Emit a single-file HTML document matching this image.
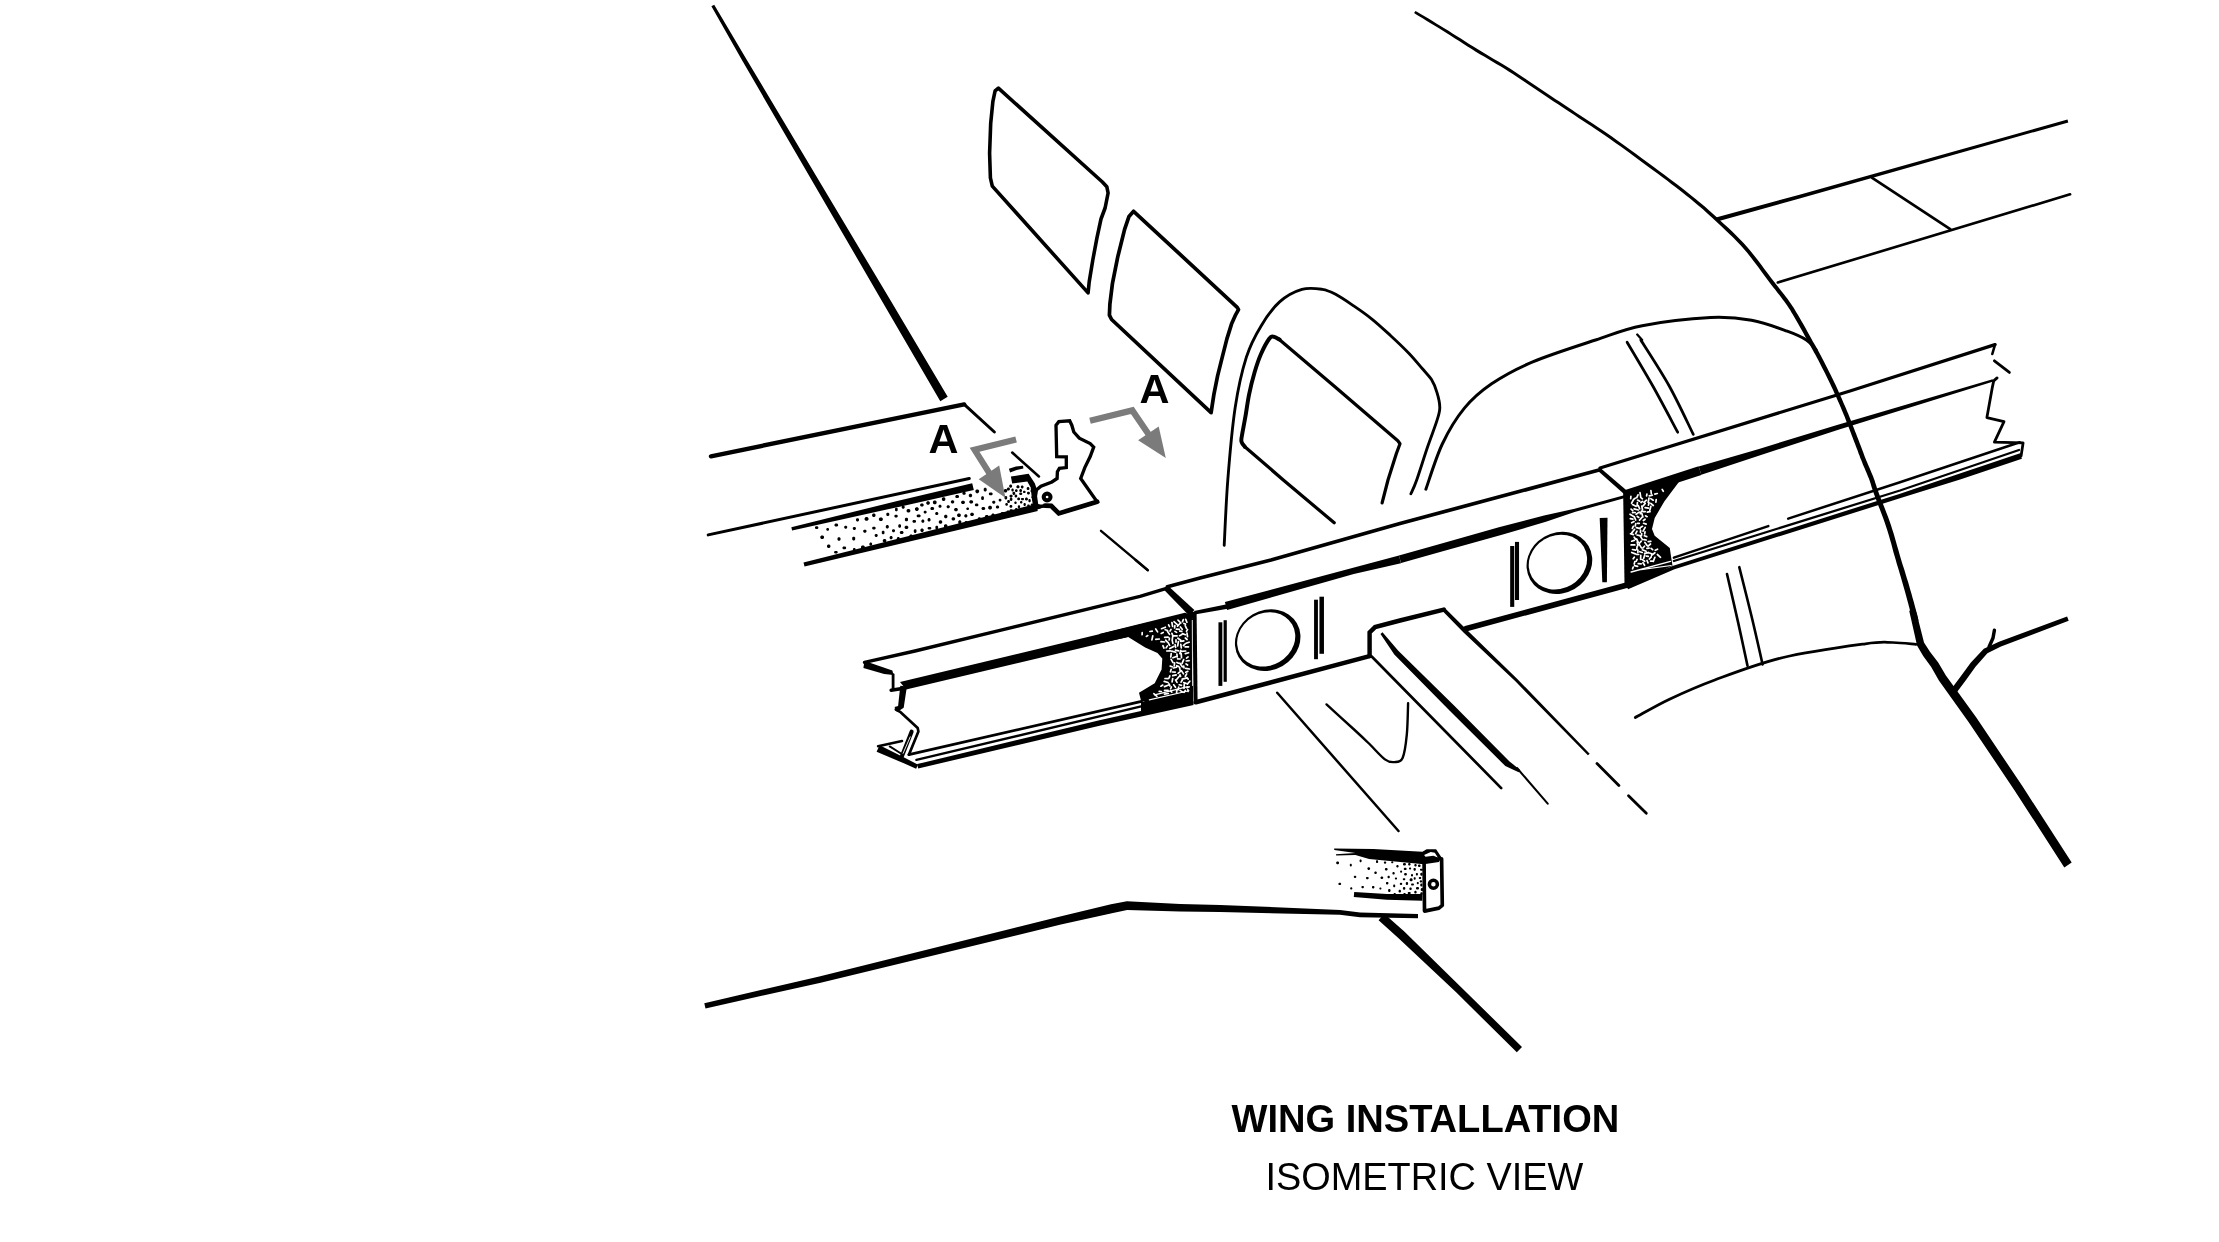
<!DOCTYPE html>
<html><head><meta charset="utf-8"><title>Wing Installation</title>
<style>
html,body{margin:0;padding:0;background:#fff;}
body{width:2219px;height:1242px;overflow:hidden;}
svg{display:block;font-family:"Liberation Sans",Arial,Helvetica,sans-serif;will-change:transform;}
text{fill:#000;}
</style></head><body>
<svg xmlns="http://www.w3.org/2000/svg" width="2219" height="1242" viewBox="0 0 2219 1242">
<rect width="2219" height="1242" fill="#fff"/>
<polygon points="711.4,6.3 742.5,61.1 882.5,301.9 940.3,401.2 947.7,396.8 889.1,298.1 746.3,58.9 714.2,4.7" fill="#000"/>
<polygon points="998.4,88.1 1102.4,182 1106.8,186.7 1108.1,193 1105.1,208 1101,219 1096.9,238.1 1092.8,260 1089.2,281.9 1088.1,292.9 992.3,186.1 990.4,177.9 989.6,153.3 990.7,123.2 992.9,101.3 995.1,90.9" fill="none" stroke="#000" stroke-width="3.59" stroke-linejoin="round" stroke-linecap="round"/>
<polygon points="1133.6,211.3 1237.2,307.3 1238.5,309.6 1235.6,314.8 1231.5,324.1 1226.9,338.9 1222.2,357.4 1217.6,375.9 1213.9,394.4 1211.1,412.6 1111.6,319.5 1109.4,315.1 1109.9,303.9 1112.5,283.1 1117.7,257.1 1124.6,229.4 1129,216.4" fill="none" stroke="#000" stroke-width="3.71" stroke-linejoin="round" stroke-linecap="round"/>
<path d="M1279.6,339.6C1278.6,339.1 1275.4,336.9 1273.7,336.7C1272.0,336.5 1271.5,335.7 1269.4,338.5C1267.3,341.3 1263.6,348.1 1261.1,353.7C1258.6,359.3 1256.6,365.4 1254.6,372.2C1252.6,379.0 1250.6,387.0 1249.1,394.4C1247.6,401.8 1246.6,409.9 1245.4,416.7C1244.2,423.5 1242.7,431.0 1242,435.2C1241.3,439.4 1241.0,439.8 1241.5,441.7C1242.0,443.6 1244.2,445.9 1244.8,446.7" fill="none" stroke="#000" stroke-width="3.95" stroke-linejoin="round" stroke-linecap="round"/>
<polyline points="1244.8,446.7 1283.3,480 1334.2,522.8" fill="none" stroke="#000" stroke-width="3.23" stroke-linejoin="round" stroke-linecap="round"/>
<polyline points="1278.7,338.9 1335.2,387 1397.8,440.7 1400,443.7 1396.3,453.7 1388,480 1382.1,502.9" fill="none" stroke="#000" stroke-width="3.23" stroke-linejoin="round" stroke-linecap="round"/>
<path d="M1224.2,545.3C1224.8,534.4 1226.0,503.0 1227.8,480C1229.6,457.0 1232.1,427.8 1235.2,407.4C1238.3,387.0 1242.0,371.0 1246.3,357.4C1250.6,343.8 1255.5,335.1 1261.1,325.9C1266.6,316.6 1272.8,308.0 1279.6,301.9C1286.4,295.8 1294.8,291.5 1301.9,289.4C1309.0,287.3 1316.7,288.5 1322.2,289.3C1327.8,290.1 1330.0,291.3 1335.2,294.1C1340.5,296.9 1347.5,301.7 1353.7,305.9C1359.9,310.1 1366.0,314.3 1372.2,319.3C1378.4,324.3 1384.5,330.0 1390.7,335.7C1396.9,341.4 1404.0,348.2 1409.3,353.7C1414.5,359.2 1418.5,364.2 1422.2,368.5C1425.9,372.8 1429.0,375.6 1431.5,379.6C1434.0,383.6 1435.6,388.0 1437,392.6C1438.4,397.2 1439.8,402.8 1439.8,407.4C1439.8,412.0 1439.0,413.9 1437,420.4C1435.0,426.9 1431.2,436.4 1427.8,446.3C1424.4,456.2 1419.5,472.1 1416.7,480C1413.9,487.9 1411.9,491.5 1410.9,493.8" fill="none" stroke="#000" stroke-width="2.87" stroke-linejoin="round" stroke-linecap="round"/>
<path d="M1425.9,489.2C1428.6,481.7 1435.9,457.5 1442.3,444C1448.7,430.5 1456.0,418.4 1464.2,408.4C1472.4,398.4 1480.2,391.6 1491.6,383.8C1503.0,376.1 1515.4,369.2 1532.7,361.9C1550.0,354.6 1577.3,346.0 1595.6,340C1613.8,334.0 1623.0,329.4 1642.2,325.7C1661.4,321.9 1692.4,318.4 1710.6,317.5C1728.8,316.6 1738.8,318.0 1751.6,320.3C1764.4,322.6 1778.1,327.9 1787.2,331.2C1796.3,334.5 1801.6,336.9 1806.4,340C1811.2,343.1 1814.4,348.0 1816,349.6" fill="none" stroke="#000" stroke-width="2.99" stroke-linejoin="round" stroke-linecap="round"/>
<polygon points="1414.1,13.1 1416.3,14.5 1419.2,16.2 1422.7,18.3 1426.5,20.7 1430.6,23.2 1434.9,25.8 1439,28.3 1443,30.8 1446.9,33.3 1450.9,35.8 1455,38.5 1459.2,41.1 1463.3,43.8 1467.5,46.5 1471.7,49.1 1475.8,51.7 1479.9,54.2 1484.1,56.6 1488.2,59.1 1492.3,61.5 1496.4,63.9 1500.5,66.3 1504.6,68.8 1508.7,71.4 1512.8,74 1516.9,76.7 1521,79.4 1525.1,82.2 1529.2,84.9 1533.3,87.7 1537.4,90.5 1541.5,93.2 1545.6,96 1549.6,98.7 1553.7,101.4 1557.7,104.1 1561.8,106.8 1565.9,109.5 1570.1,112.3 1574.4,115.1 1578.6,118 1582.9,120.7 1587.1,123.5 1591.4,126.3 1595.8,129.2 1600.3,132.3 1605.1,135.5 1610.1,139 1615.6,142.9 1621.5,147.1 1627.7,151.6 1634,156.2 1640.4,160.9 1646.5,165.4 1652.3,169.7 1657.6,173.6 1662.5,177.2 1667,180.6 1671.3,183.9 1675.4,187 1679.3,190 1683.1,193 1686.8,195.9 1690.4,198.8 1693.9,201.7 1697.1,204.4 1700.2,207 1703.2,209.6 1706.1,212.2 1709.1,214.9 1712.2,217.7 1715.4,220.8 1718.9,224 1722.4,227.3 1726,230.7 1729.7,234.2 1733.4,237.8 1737,241.5 1740.6,245.3 1744.1,249.2 1747.6,253.3 1751.1,257.8 1754.7,262.4 1758.2,267.1 1761.6,271.7 1764.9,276.2 1767.9,280.3 1770.7,284 1773.2,287.2 1775.5,290.1 1777.5,292.7 1779.4,295 1781.1,297.3 1782.7,299.4 1784.3,301.5 1785.9,303.8 1787.5,306 1788.9,308.2 1790.3,310.3 1791.5,312.4 1792.8,314.5 1794.1,316.7 1795.4,318.9 1796.7,321.2 1798,323.5 1799.4,325.9 1800.8,328.4 1802.1,330.8 1803.5,333.3 1804.9,335.9 1806.3,338.4 1807.6,340.8 1809,343.3 1810.3,345.6 1811.6,348 1812.9,350.3 1814.2,352.7 1815.6,355.1 1817,357.7 1818.5,360.5 1820,363.5 1821.6,366.7 1823.3,369.9 1825,373.3 1826.7,376.8 1828.4,380.2 1830,383.6 1831.6,386.9 1833.2,390.3 1834.7,393.7 1836.3,397.3 1837.8,400.7 1839.3,404.1 1840.7,407.3 1841.9,410.3 1843.1,413 1844,415.2 1844.8,417.1 1845.4,418.8 1846,420.3 1846.5,421.7 1847.1,423.2 1847.7,424.8 1848.4,426.6 1849.2,428.6 1850,430.8 1850.9,433 1851.7,435.3 1852.6,437.6 1853.5,439.9 1854.4,442.2 1855.3,444.4 1856.1,446.7 1857,448.9 1857.8,451.1 1858.6,453.4 1859.5,455.6 1860.3,457.9 1861.2,460.1 1862.1,462.3 1862.9,464.4 1863.8,466.5 1864.7,468.6 1865.6,470.7 1866.5,472.7 1867.3,474.7 1868.1,476.7 1868.9,478.6 1869.6,480.5 1870.1,482.1 1870.6,483.6 1871.1,485.2 1871.6,487 1872.3,489 1873.1,491.3 1874,494.1 1875.3,497.4 1876.7,501.2 1878.2,505.2 1879.9,509.5 1881.6,513.9 1883.2,518.3 1884.8,522.7 1886.2,526.9 1887.5,531 1888.8,535.2 1890,539.4 1891.2,543.6 1892.3,547.8 1893.4,551.9 1894.6,555.9 1895.7,559.7 1896.7,563.4 1897.8,567 1898.8,570.3 1899.8,573.7 1900.8,577 1901.7,580.3 1902.7,583.7 1903.7,587.2 1904.8,591 1905.9,595.1 1907.1,599.4 1908.2,603.6 1909.3,607.7 1910.3,611.5 1911.1,614.7 1911.7,617.2 1912.1,618.9 1912.3,620 1912.3,620.4 1912.4,619.9 1913.6,618.1 1914.6,617.7 1912.3,619.1 1911.9,620.5 1918.1,621.3 1917.7,622.3 1915.6,623.8 1916.9,623.3 1918.3,621.3 1918.4,620.1 1918.2,619 1917.9,617.7 1917.5,615.8 1916.8,613.2 1915.9,610 1914.9,606.2 1913.8,602.1 1912.6,597.9 1911.4,593.6 1910.2,589.4 1909.1,585.6 1908.1,582.1 1907,578.7 1906,575.4 1905,572.1 1904,568.8 1902.9,565.4 1901.8,561.9 1900.7,558.3 1899.6,554.4 1898.5,550.5 1897.3,546.4 1896.1,542.2 1894.9,538 1893.7,533.7 1892.3,529.5 1891,525.3 1889.5,521 1887.9,516.6 1886.2,512.2 1884.5,507.7 1882.8,503.4 1881.2,499.4 1879.8,495.7 1878.6,492.5 1877.6,489.8 1876.8,487.5 1876.2,485.5 1875.6,483.8 1875.1,482.2 1874.6,480.6 1874,478.9 1873.3,477 1872.5,474.9 1871.6,472.9 1870.8,470.9 1869.9,468.8 1869,466.8 1868.1,464.7 1867.2,462.6 1866.3,460.5 1865.5,458.4 1864.6,456.2 1863.8,454 1863,451.8 1862.1,449.5 1861.3,447.3 1860.4,445 1859.5,442.8 1858.7,440.5 1857.8,438.2 1856.9,435.9 1856,433.6 1855.1,431.4 1854.2,429.1 1853.4,427 1852.6,425 1851.9,423.2 1851.3,421.6 1850.7,420.1 1850.2,418.7 1849.6,417.2 1848.9,415.5 1848.1,413.5 1847.1,411.2 1846,408.6 1844.7,405.6 1843.3,402.4 1841.9,399 1840.3,395.5 1838.7,391.9 1837.2,388.4 1835.6,385.1 1834,381.7 1832.3,378.3 1830.6,374.8 1828.9,371.4 1827.2,368 1825.5,364.7 1823.9,361.5 1822.3,358.5 1820.9,355.7 1819.4,353 1818.1,350.6 1816.7,348.2 1815.4,345.8 1814.1,343.5 1812.7,341.2 1811.4,338.8 1810,336.3 1808.6,333.8 1807.2,331.3 1805.9,328.8 1804.5,326.3 1803.1,323.8 1801.7,321.4 1800.3,319 1799,316.8 1797.7,314.6 1796.4,312.4 1795.1,310.3 1793.8,308.1 1792.4,306 1790.9,303.7 1789.3,301.4 1787.6,299.1 1786,296.9 1784.3,294.8 1782.5,292.5 1780.7,290.2 1778.6,287.6 1776.4,284.8 1773.9,281.6 1771.1,277.9 1768,273.8 1764.7,269.4 1761.3,264.8 1757.7,260.1 1754.1,255.4 1750.5,251 1746.9,246.8 1743.3,242.8 1739.6,239 1735.9,235.3 1732.2,231.6 1728.5,228.1 1724.8,224.7 1721.2,221.4 1717.8,218.2 1714.5,215.2 1711.4,212.4 1708.3,209.7 1705.3,207.1 1702.3,204.5 1699.2,201.9 1695.9,199.2 1692.4,196.4 1688.7,193.5 1685,190.5 1681.2,187.6 1677.3,184.6 1673.2,181.5 1668.8,178.2 1664.3,174.8 1659.4,171.2 1654.1,167.2 1648.3,163 1642.1,158.4 1635.8,153.8 1629.5,149.2 1623.3,144.7 1617.3,140.5 1611.9,136.6 1606.8,133.1 1602,129.8 1597.4,126.7 1593,123.8 1588.7,121 1584.5,118.2 1580.3,115.5 1576,112.7 1571.8,109.8 1567.6,107 1563.5,104.3 1559.4,101.6 1555.3,98.9 1551.3,96.2 1547.2,93.5 1543.1,90.8 1539,88 1534.9,85.2 1530.8,82.4 1526.7,79.7 1522.6,76.9 1518.5,74.2 1514.4,71.5 1510.3,68.8 1506.2,66.3 1502.1,63.8 1497.9,61.3 1493.8,58.9 1489.7,56.5 1485.6,54.1 1481.5,51.6 1477.4,49.1 1473.3,46.6 1469.1,43.9 1464.9,41.3 1460.8,38.6 1456.6,36 1452.5,33.4 1448.5,30.8 1444.6,28.4 1440.5,25.9 1436.3,23.4 1432.1,20.8 1428,18.3 1424.1,16 1420.6,13.9 1417.7,12.2 1415.5,10.9" fill="#000"/>
<polygon points="1909.2,610.8 1911.7,621.7 1914.8,635.4 1917,645.4 1923.2,656.1 1931.2,667 1938.9,680.4 1968.9,722.5 2014.6,790.4 2064.3,867.4 2071.7,862.6 2022,785.6 1976.3,717.5 1945.9,675.6 1938.2,662.4 1929.8,651.5 1924,642.4 1921.8,633.8 1918.3,620.1 1915.4,609.2" fill="#000"/>
<polygon points="1955.5,693.9 1966,679.9 1975.5,666.7 1987.4,653.3 2001,646.6 2068.7,620.8 2067.1,616.4 1999,641.8 1983.8,648.7 1970.7,662.7 1961,676.1 1950.5,690.1" fill="#000"/>
<polyline points="1994.4,630.3 1993,638 1989,647" fill="none" stroke="#000" stroke-width="3.47" stroke-linejoin="round" stroke-linecap="round"/>
<path d="M1627.1,342.2C1631.4,349.6 1644.7,371.5 1653.1,386.5C1661.5,401.5 1673.6,424.6 1677.7,432.2" fill="none" stroke="#000" stroke-width="2.75" stroke-linejoin="round" stroke-linecap="round"/>
<path d="M1640.8,340C1645.6,347.8 1660.8,370.8 1669.5,386.5C1678.2,402.2 1689.3,426.4 1693.3,434.4" fill="none" stroke="#000" stroke-width="2.75" stroke-linejoin="round" stroke-linecap="round"/>
<polyline points="1637.2,334.5 1642.2,340" fill="none" stroke="#000" stroke-width="2.27" stroke-linejoin="round" stroke-linecap="round"/>
<path d="M1727,574C1728.8,582.0 1734.6,606.6 1738,621.9C1741.4,637.2 1745.9,658.4 1747.5,665.7" fill="none" stroke="#000" stroke-width="2.63" stroke-linejoin="round" stroke-linecap="round"/>
<path d="M1739.3,567.2C1741.3,575.4 1747.7,600.3 1751.6,616.5C1755.5,632.7 1760.8,656.4 1762.6,664.4" fill="none" stroke="#000" stroke-width="2.63" stroke-linejoin="round" stroke-linecap="round"/>
<path d="M1635.3,717.5C1641.0,714.5 1656.2,705.5 1669.5,699.2C1682.8,693.0 1695.8,687.0 1714.8,680C1733.8,673.0 1758.1,663.5 1783.2,657.5C1808.3,651.5 1847.2,646.3 1865.4,643.8C1883.7,641.3 1884.3,642.4 1892.7,642.5C1901.1,642.6 1912.1,644.1 1916,644.4" fill="none" stroke="#000" stroke-width="2.75" stroke-linejoin="round" stroke-linecap="round"/>
<polygon points="1717.2,221.5 1800.5,198.3 2068.3,122.4 2067.5,119.6 1799.5,194.7 1716,217.5" fill="#000"/>
<polyline points="1777.8,282.5 2070.1,194.3" fill="none" stroke="#000" stroke-width="2.63" stroke-linejoin="round" stroke-linecap="round"/>
<polyline points="1872.2,177.9 1950.2,229.1" fill="none" stroke="#000" stroke-width="2.75" stroke-linejoin="round" stroke-linecap="round"/>
<polyline points="711,456.3 964.2,404.4" fill="none" stroke="#000" stroke-width="4.43" stroke-linejoin="round" stroke-linecap="round"/>
<polyline points="964.2,404.4 994.4,432" fill="none" stroke="#000" stroke-width="2.99" stroke-linejoin="round" stroke-linecap="round"/>
<polyline points="708.2,534.9 969.3,478.5" fill="none" stroke="#000" stroke-width="2.99" stroke-linejoin="round" stroke-linecap="round"/>
<polygon points="792.1,530.5 900.7,506.4 973.8,489.9 972.2,483.3 899.3,500.4 791.3,527.3" fill="#000"/>
<polygon points="804.5,566.6 1037.8,511.1 1036,504.1 803.5,562.4" fill="#000"/>
<polyline points="1012.2,452.5 1038.9,476.5" fill="none" stroke="#000" stroke-width="2.58" stroke-linejoin="round" stroke-linecap="round"/>
<polygon points="1010.1,472.5 1016.7,470 1023.4,468.6 1023,465.8 1015.9,466.6 1008.9,468.7" fill="#000"/>
<polyline points="1101,530.8 1147.5,569.9" fill="none" stroke="#000" stroke-width="2.4" stroke-linejoin="round" stroke-linecap="round"/>
<polyline points="1135.6,560 1147.9,570.3" fill="none" stroke="#000" stroke-width="2.4" stroke-linejoin="round" stroke-linecap="round"/>
<polygon points="705.5,1008.4 820.7,982.7 1060.9,924.5 1113,912.9 1127.1,910 1179.9,911.6 1219.9,912 1339.9,914.7 1359.9,917.2 1418,918.3 1418,913.9 1360.1,912.4 1340.1,909.9 1220.1,905 1180.1,904 1126.9,901.2 1111,904.3 1059.1,916.7 819.3,976.5 704.3,1003.2" fill="#000"/>
<polygon points="1378.6,920.2 1398.3,937.9 1456.4,992.6 1516.8,1052.3 1522,1047.1 1461.4,987.4 1404.3,931.5 1384.2,913.8" fill="#000"/>
<polyline points="864.5,662.4 915,651 1001,630.1 1140,596.4 1167.4,588.1" fill="none" stroke="#000" stroke-width="3.35" stroke-linejoin="round" stroke-linecap="round"/>
<polyline points="1167.4,586.8 1200,578 1271,560 1400,523.5 1600,469.8" fill="none" stroke="#000" stroke-width="3.71" stroke-linejoin="round" stroke-linecap="round"/>
<polyline points="1600,468 1850,391 1995,344.6" fill="none" stroke="#000" stroke-width="3.23" stroke-linejoin="round" stroke-linecap="round"/>
<polygon points="1163.7,589.4 1189,615.5 1194.4,609.9 1167.7,585.4" fill="#000"/>
<polygon points="1598.6,471.4 1624.3,494.3 1627.3,490.9 1601,468.6" fill="#000"/>
<polygon points="864.4,661.6 870.5,663 892.4,670.5 893.5,675 884.2,673.9 863.4,668" fill="#000"/>
<polyline points="893.1,674.6 893.1,689.6" fill="none" stroke="#000" stroke-width="2.79" stroke-linejoin="round" stroke-linecap="round"/>
<polyline points="891.1,690.3 900.6,688.7" fill="none" stroke="#000" stroke-width="3.44" stroke-linejoin="round" stroke-linecap="round"/>
<polygon points="900.3,685.8 898.1,705.9 894.5,707 897.1,712 903.7,707.7 906.9,686.6" fill="#000"/>
<polyline points="895.8,709.5 900.6,712.2 917.7,728 918.4,731.4 908.9,754.7" fill="none" stroke="#000" stroke-width="2.68" stroke-linejoin="round" stroke-linecap="round"/>
<polyline points="911.6,731.7 902,756" fill="none" stroke="#000" stroke-width="4.09" stroke-linejoin="round" stroke-linecap="round"/>
<polyline points="910.2,736.9 903.1,753.3" fill="none" stroke="#fff" stroke-width="0.9" stroke-linejoin="round" stroke-linecap="round"/>
<polyline points="878.1,746.2 902,741" fill="none" stroke="#000" stroke-width="2.58" stroke-linejoin="round" stroke-linecap="round"/>
<polygon points="876.6,751.8 900.8,761.9 916.1,768.7 918.1,764.7 903.2,756.9 879.6,745.2" fill="#000"/>
<polyline points="889.7,746.4 900.6,753.3" fill="none" stroke="#000" stroke-width="1.93" stroke-linejoin="round" stroke-linecap="round"/>
<polyline points="908.9,754.7 1141.5,701.3" fill="none" stroke="#000" stroke-width="2.75" stroke-linejoin="round" stroke-linecap="round"/>
<polyline points="916.4,759.9 1144.3,705.7" fill="none" stroke="#000" stroke-width="2.27" stroke-linejoin="round" stroke-linecap="round"/>
<polygon points="918.2,768.5 1100.6,725.5 1193.6,705 1192.4,699.6 1099.4,720.3 917.2,764.1" fill="#000"/>
<polygon points="900,682.1 1150,621.9 1150,628.1 1126.5,637.2 906.1,689.6" fill="#000"/>
<polygon points="1099.3,633.9 1184.9,612.7 1191.7,614.7 1127.4,637.3 1099.3,643.2" fill="#000"/>
<polygon points="1127.4,636.6 1189,613.4 1193.1,618.9 1193.1,702.3 1141.1,701 1139,692.8 1154.7,683.2 1161.6,669.5 1162.3,658.5 1157.5,653.1 1145.2,647.6" fill="#000"/>
<polygon points="1194.7,614.4 1227.7,608.7 1226.9,604.3 1194.1,611" fill="#000"/>
<polygon points="1227.1,610.1 1353.8,573.9 1401,563.2 1399,555.4 1352.2,568.1 1224.9,601.9" fill="#000"/>
<polygon points="1401.1,563.1 1441,551.7 1501.1,535.1 1545.9,521.7 1575.4,511.8 1624.9,498.1 1624.1,495.3 1574.6,508.8 1544.1,515.5 1498.9,527.3 1439,544.3 1398.9,555.5" fill="#000"/>
<polygon points="1192.6,612 1193.6,703.5 1197.6,703.5 1196.6,612" fill="#000"/>
<polyline points="1192.3,620 1192.6,686" fill="none" stroke="#fff" stroke-width="0.9" stroke-linejoin="round" stroke-linecap="butt"/>
<polygon points="1187.6,609.3 1195.8,612.7 1194.4,618.9 1187.6,617.5" fill="#000"/>
<polyline points="1195.8,702.3 1369.6,656.1" fill="none" stroke="#000" stroke-width="4.52" stroke-linejoin="round" stroke-linecap="round"/>
<polyline points="1465.7,628.8 1627.2,585" fill="none" stroke="#000" stroke-width="5.6" stroke-linejoin="round" stroke-linecap="round"/>
<polyline points="1626.5,492.6 1627.9,587.7" fill="none" stroke="#000" stroke-width="6.68" stroke-linejoin="round" stroke-linecap="butt"/>
<ellipse cx="1267.7" cy="640.1" rx="33.7" ry="29.8" transform="rotate(-30 1267.7 640.1)" fill="#000"/>
<ellipse cx="1266.2" cy="639.4" rx="30.0" ry="26.1" transform="rotate(-30 1266.2 639.4)" fill="#fff"/>
<ellipse cx="1559.4" cy="562.8" rx="33.7" ry="30.2" transform="rotate(-30 1559.4 562.8)" fill="#000"/>
<ellipse cx="1557.9" cy="562.1" rx="30.0" ry="26.5" transform="rotate(-30 1557.9 562.1)" fill="#fff"/>
<polyline points="1220.4,622.3 1220.4,685.9" fill="none" stroke="#000" stroke-width="3.87" stroke-linejoin="round" stroke-linecap="butt"/>
<polyline points="1225.2,620.2 1225.2,681.8" fill="none" stroke="#000" stroke-width="3.22" stroke-linejoin="round" stroke-linecap="butt"/>
<polyline points="1316,599.7 1316,659.2" fill="none" stroke="#000" stroke-width="3.87" stroke-linejoin="round" stroke-linecap="butt"/>
<polyline points="1321.7,596.7 1321.7,653.8" fill="none" stroke="#000" stroke-width="4.52" stroke-linejoin="round" stroke-linecap="butt"/>
<polyline points="1512.2,546 1512.2,606.9" fill="none" stroke="#000" stroke-width="4.09" stroke-linejoin="round" stroke-linecap="butt"/>
<polyline points="1517,541.9 1517,600" fill="none" stroke="#000" stroke-width="4.09" stroke-linejoin="round" stroke-linecap="butt"/>
<polygon points="1599.7,518 1602.3,582.2 1606.9,582.2 1607.5,517.8" fill="#000"/>
<polyline points="1369.6,656.1 1369.6,632.5 1375.1,627.1 1400,620.5 1443.8,609.6" fill="none" stroke="#000" stroke-width="4.43" stroke-linejoin="miter" stroke-linecap="round"/>
<polygon points="1442.5,610.9 1463.5,632.6 1515.1,681.1 1587.9,755.3 1589.7,753.7 1517.3,678.9 1466.5,629.4 1445.1,608.3" fill="#000"/>
<polyline points="1597,763.5 1618.9,785.4" fill="none" stroke="#000" stroke-width="2.8" stroke-linejoin="round" stroke-linecap="round"/>
<polyline points="1628.5,795.8 1646.3,813.3" fill="none" stroke="#000" stroke-width="2.8" stroke-linejoin="round" stroke-linecap="round"/>
<polyline points="1371.7,656.5 1501.2,788.1" fill="none" stroke="#000" stroke-width="2.7" stroke-linejoin="round" stroke-linecap="round"/>
<polygon points="1380.5,633.9 1394.3,654.4 1449.5,710.5 1505.3,766 1518.7,772.3 1520.1,769.9 1509.5,761.4 1454.3,705.7 1398.3,650.8 1382.5,632.3" fill="#000"/>
<polyline points="1517,768 1547.7,803.7" fill="none" stroke="#000" stroke-width="2" stroke-linejoin="round" stroke-linecap="round"/>
<polyline points="1277.2,692.8 1398.5,831" fill="none" stroke="#000" stroke-width="2.5" stroke-linejoin="round" stroke-linecap="round"/>
<path d="M1326.5,704.4C1331.2,708.7 1347.6,723.6 1354.6,730C1361.6,736.4 1363.4,738.1 1368.4,743C1373.5,747.9 1380.6,756.2 1384.9,759.4C1389.2,762.6 1391.5,762.3 1394.4,762.1C1397.4,761.9 1400.5,762.6 1402.6,758C1404.7,753.4 1405.9,743.8 1406.8,734.7C1407.7,725.6 1407.9,708.5 1408.1,703.3" fill="none" stroke="#000" stroke-width="2.4" stroke-linejoin="round" stroke-linecap="round"/>
<polygon points="1626,490.5 1676.6,476.8 1678.7,482.3 1664.3,501.5 1654.7,517.9 1652,528.9 1654.7,535.7 1669.8,548 1671.2,557.6 1672.5,565.8 1627.4,587.7 1625.3,538.4" fill="#000"/>
<polygon points="1627.2,499 1701.4,475 1698.6,466.2 1624.4,490.2" fill="#000"/>
<polygon points="1701.3,474.8 1761,455.1 1837.6,430 1993.4,381.6 1992.6,379.2 1836.2,425.2 1759,448.9 1698.7,466.4" fill="#000"/>
<polygon points="1628,589.3 1674.5,569.3 1900.7,498.1 1960.9,479.2 2021.9,458.7 2020.1,453.3 1959.1,473.8 1899.3,493.9 1673.3,565.7 1626,584.7" fill="#000"/>
<polyline points="1673.9,561 1900,490.5 2019,450" fill="none" stroke="#000" stroke-width="2.27" stroke-linejoin="round" stroke-linecap="round"/>
<polyline points="1673.9,557.6 1768.3,526.1" fill="none" stroke="#000" stroke-width="2.51" stroke-linejoin="round" stroke-linecap="round"/>
<polyline points="1788.2,518.6 1900,482.3 2019.7,442.2" fill="none" stroke="#000" stroke-width="2.51" stroke-linejoin="round" stroke-linecap="round"/>
<polyline points="1631.2,572 1670.5,561.4" fill="none" stroke="#fff" stroke-width="1.4" stroke-linejoin="round" stroke-linecap="round"/>
<polyline points="1641.1,569.6 1671.2,565.5" fill="none" stroke="#fff" stroke-width="1.1" stroke-linejoin="round" stroke-linecap="round"/>
<polygon points="1141,702 1190,690 1193.5,704 1141,714" fill="#000"/>
<polyline points="1154.7,694.8 1187.6,686.6" fill="none" stroke="#fff" stroke-width="1.3" stroke-linejoin="round" stroke-linecap="round"/>
<polyline points="1149.3,699.9 1189,690.7" fill="none" stroke="#fff" stroke-width="1.1" stroke-linejoin="round" stroke-linecap="round"/>
<polyline points="1995.1,344.4 1992.3,354" fill="none" stroke="#000" stroke-width="2.58" stroke-linejoin="round" stroke-linecap="round"/>
<polyline points="1994.4,360.8 2009.4,372.4" fill="none" stroke="#000" stroke-width="2.79" stroke-linejoin="round" stroke-linecap="round"/>
<polyline points="1997.1,377.9 1993.7,380.9 1992.3,387.5 1986.9,417.6 2004,421.7 1994.4,442.2 2023.1,442.9 2021.1,455.9" fill="none" stroke="#000" stroke-width="2.79" stroke-linejoin="round" stroke-linecap="round"/>
<path d="M1155.7,629.0L1157.6,631.9M1171.9,622.5L1172.6,626.4M1167.4,645.9L1166.1,647.9M1147.8,635.6L1146.3,636.4M1170.5,690.9L1171.8,692.1M1183.8,640.8L1180.7,641.3M1173.6,646.4L1169.8,648.5M1171.7,651.1L1175.7,652.2M1161.0,641.7L1164.6,642.0M1180.2,671.6L1178.1,673.3M1168.0,685.3L1164.5,686.6M1176.0,639.8L1176.0,642.1M1176.9,662.4L1178.5,663.2M1174.6,662.9L1174.2,666.0M1180.1,690.4L1182.6,692.1M1179.2,684.8L1181.5,685.4M1187.5,629.6L1186.5,631.3M1169.4,638.0L1169.2,640.0M1187.8,671.4L1185.7,672.2M1186.2,678.2L1182.2,679.1M1152.3,631.2L1149.9,631.5M1171.0,629.5L1170.0,631.0M1159.3,639.0L1155.7,639.3M1179.8,631.2L1181.8,631.4M1165.2,629.7L1167.6,630.5M1168.3,693.5L1164.5,694.2M1181.4,670.6L1183.5,673.9M1165.0,678.5L1168.2,678.6M1180.0,674.7L1180.6,676.4M1188.6,652.7L1185.3,653.6M1188.5,646.8L1185.1,646.9M1171.4,687.0L1170.6,688.8M1181.2,653.6L1181.5,657.7M1172.7,678.5L1172.1,681.8M1176.9,654.2L1177.2,656.8M1159.2,691.4L1161.4,691.5M1175.0,631.4L1176.6,632.4M1185.8,668.4L1189.4,669.0M1168.1,690.4L1164.5,690.4M1162.8,685.1L1160.9,686.2M1181.9,634.5L1179.5,635.7M1163.2,632.4L1161.2,633.4M1173.7,684.8L1175.5,687.3M1185.3,638.0L1187.1,639.5M1189.8,681.2L1187.3,684.1M1168.1,637.1L1164.6,637.3M1185.2,625.7L1186.5,628.3M1180.8,650.4L1179.9,653.6M1176.5,667.2L1173.4,668.0M1189.1,660.6L1186.2,661.0M1183.7,666.1L1184.0,667.8M1175.5,679.9L1177.0,682.4M1172.4,672.0L1175.2,672.1M1176.7,665.7L1178.9,666.6M1165.4,627.2L1161.5,628.7M1182.4,633.6L1185.4,634.7M1187.9,689.7L1188.0,691.5M1180.4,626.9L1182.2,629.3M1172.2,640.4L1172.9,643.5M1175.4,650.2L1178.6,650.9M1183.3,619.6L1182.5,621.6M1152.8,635.8L1151.9,639.9M1189.1,642.2L1186.0,643.3M1184.2,684.7L1184.0,688.4M1187.0,633.0L1187.5,636.6M1185.7,619.3L1186.9,622.2M1179.7,623.8L1177.5,626.2M1171.2,669.3L1170.4,671.8M1168.0,642.4L1169.6,645.4M1179.6,667.5L1180.1,670.3M1171.9,633.4L1172.8,635.6M1183.7,659.6L1182.1,663.3M1177.9,638.2L1180.7,640.2M1171.2,653.6L1170.8,657.0M1186.7,673.9L1185.3,676.3M1177.6,658.9L1180.2,659.0M1176.8,689.6L1176.6,692.9M1176.2,674.9L1172.8,675.7M1182.3,680.0L1181.1,682.2M1188.1,656.9L1186.5,658.1M1175.7,656.7L1172.9,657.8M1180.8,644.3L1181.3,647.8M1172.8,635.9L1172.2,640.2M1183.9,623.5L1185.5,624.1M1169.8,675.9L1169.1,678.0M1174.0,621.7L1177.3,624.6M1174.9,625.6L1174.6,628.0M1169.0,683.8L1169.9,685.9M1186.9,677.7L1188.2,679.1M1170.3,650.8L1166.7,651.0M1168.6,624.8L1169.4,626.5M1185.7,651.0L1181.6,651.3M1164.2,681.4L1168.1,682.5M1178.4,641.5L1177.7,645.8M1175.1,644.6L1175.6,647.4M1173.9,635.8L1177.1,635.9M1178.0,620.2L1180.9,623.0M1153.8,693.7L1156.9,696.4M1171.1,659.3L1173.0,662.6M1179.3,676.2L1176.6,679.5M1178.7,687.2L1178.1,689.7M1165.7,640.2L1167.2,641.8M1183.7,682.6L1186.0,683.4M1167.4,631.2L1169.5,634.4M1176.4,629.2L1179.4,629.3M1142.2,632.7L1142.1,634.7M1185.3,690.5L1184.1,692.3M1184.9,644.1L1183.4,645.6M1189.2,686.8L1186.9,687.7M1170.2,666.1L1172.2,666.7M1186.0,663.9L1187.6,665.0M1179.9,663.2L1182.3,666.8M1162.9,645.7L1164.0,648.1" stroke="#fff" stroke-width="1.7" fill="none" stroke-linecap="round"/>
<path d="M1657.3,493.5L1654.8,494.1M1634.3,557.2L1633.2,558.8M1642.5,501.3L1641.0,502.5M1637.1,546.3L1636.8,549.3M1639.2,512.1L1636.1,514.3M1641.8,506.0L1642.5,510.0M1644.5,546.2L1642.9,548.0M1637.4,502.5L1637.1,505.9M1652.3,495.1L1649.3,495.9M1657.4,554.5L1660.5,557.3M1649.1,548.2L1646.9,548.4M1634.2,516.6L1635.7,520.0M1650.1,511.7L1647.3,512.2M1643.6,523.3L1646.2,524.1M1636.4,527.7L1640.1,528.6M1640.7,497.3L1642.4,498.8M1651.2,556.9L1649.4,559.0M1637.1,559.4L1636.2,561.2M1638.2,563.7L1641.3,563.8M1634.0,521.6L1631.7,522.8M1634.2,540.4L1631.7,541.2M1637.2,542.0L1637.9,545.6M1650.8,503.3L1653.3,505.5M1634.8,544.9L1631.1,544.9M1645.2,527.4L1643.1,531.2M1646.4,500.2L1644.0,502.4M1645.1,507.6L1648.4,508.2M1633.6,499.5L1631.6,503.2M1648.0,552.5L1651.7,553.7M1632.5,504.6L1635.9,506.3M1657.5,549.2L1655.3,550.3M1637.6,523.3L1639.3,523.4M1641.7,533.6L1641.5,535.6M1649.0,498.0L1648.2,502.3M1642.3,517.0L1639.5,520.1M1645.1,519.2L1643.4,520.5M1634.1,508.9L1638.3,510.0M1650.8,541.4L1648.2,541.7M1650.9,506.3L1649.8,510.3M1634.2,537.2L1635.8,539.4M1640.8,555.3L1640.6,559.4M1632.5,549.5L1635.6,550.2M1656.2,499.5L1655.9,502.2M1650.8,498.6L1653.2,500.2M1633.2,567.0L1632.6,568.8M1641.3,541.1L1639.4,543.3M1647.0,560.5L1648.0,562.8M1633.3,526.4L1632.4,528.4M1641.5,511.1L1640.3,513.7M1644.0,539.6L1646.3,540.0M1646.4,556.1L1648.3,556.4M1651.1,548.3L1652.6,549.7M1634.8,561.7L1634.2,564.0M1636.6,538.9L1638.1,542.2M1642.9,511.6L1645.2,511.7M1637.6,500.1L1639.7,501.2M1639.8,551.7L1642.2,552.5M1635.3,498.1L1634.1,499.2M1630.5,533.7L1633.4,534.6M1642.3,559.6L1644.7,561.3M1637.9,550.1L1637.9,552.3M1638.3,505.6L1639.6,508.8M1636.5,554.4L1638.7,554.5M1646.9,494.1L1646.6,495.9M1640.0,492.7L1640.7,496.9M1644.4,535.8L1646.7,536.6M1635.8,523.6L1635.2,526.0M1640.6,530.4L1640.4,532.3M1637.0,531.2L1635.7,533.7M1648.6,552.6L1644.6,553.3M1645.5,515.8L1647.1,516.7M1631.7,552.5L1635.3,553.9M1662.2,489.4L1663.3,491.3M1630.3,518.6L1632.9,519.1M1654.9,557.3L1653.3,561.4M1644.9,542.4L1647.1,545.6M1635.2,512.5L1632.5,512.7M1637.3,516.5L1638.8,517.4M1631.1,509.2L1632.7,510.7M1649.1,502.8L1648.4,505.2M1645.2,503.5L1643.1,505.9M1644.7,555.0L1643.7,558.3M1641.9,513.7L1642.9,517.0M1637.0,535.0L1639.9,535.6M1650.9,490.5L1651.3,493.3M1650.5,544.0L1648.1,546.2M1634.6,565.7L1637.6,566.3M1654.9,552.8L1651.6,555.3M1640.2,536.1L1642.5,539.6M1639.4,544.6L1641.4,547.9M1642.5,526.3L1640.5,527.4M1638.0,494.9L1636.8,497.6M1634.6,529.3L1631.9,532.6M1630.0,514.3L1633.7,516.5M1650.6,561.1L1652.2,561.2M1645.0,531.8L1644.7,533.9M1643.0,562.7L1644.6,565.3M1630.9,496.3L1630.7,498.7M1642.4,549.8L1646.1,551.3" stroke="#fff" stroke-width="1.7" fill="none" stroke-linecap="round"/>
<polygon points="1010.9,476.5 1028.6,473.8 1034.8,483.3 1036.9,489.5 1031.4,488.8 1027.3,481.6 1012.2,483.6" fill="#000"/>
<path d="M1015.7,508.1h1.0l0.8,0.8v1.6l-0.8,0.8h-1.0l-0.8,-0.8v-1.6zM956.2,495.0h1.9l0.9,0.9v1.3l-0.9,0.9h-1.9l-0.9,-0.9v-1.3zM900.7,531.0h1.9l0.9,0.9v1.2l-0.9,0.9h-1.9l-0.9,-0.9v-1.2zM895.2,514.8h1.7l0.8,0.8v1.1l-0.8,0.8h-1.7l-0.8,-0.8v-1.1zM939.4,504.8h1.2l0.9,0.9v1.2l-0.9,0.9h-1.2l-0.9,-0.9v-1.2zM853.1,536.7h1.2l0.9,0.9v1.9l-0.9,0.9h-1.2l-0.9,-0.9v-1.9zM955.1,507.9h1.7l1.0,1.0v1.3l-1.0,1.0h-1.7l-1.0,-1.0v-1.3zM931.3,507.1h1.9l0.9,0.9v1.2l-0.9,0.9h-1.9l-0.9,-0.9v-1.2zM945.0,524.3h1.4l1.0,1.0v1.7l-1.0,1.0h-1.4l-1.0,-1.0v-1.7zM905.8,517.7h1.3l0.9,0.9v1.8l-0.9,0.9h-1.3l-0.9,-0.9v-1.8zM879.9,517.6h1.9l1.0,1.0v1.3l-1.0,1.0h-1.9l-1.0,-1.0v-1.3zM853.7,526.9h1.3l0.9,0.9v1.2l-0.9,0.9h-1.3l-0.9,-0.9v-1.2zM989.7,492.5h2.1l0.8,0.8v1.1l-0.8,0.8h-2.1l-0.8,-0.8v-1.1zM910.3,534.5h1.6l0.9,0.9v1.2l-0.9,0.9h-1.6l-0.9,-0.9v-1.2zM827.1,528.0h1.1l0.8,0.8v1.1l-0.8,0.8h-1.1l-0.8,-0.8v-1.1zM921.4,528.4h1.3l1.0,1.0v1.6l-1.0,1.0h-1.3l-1.0,-1.0v-1.6zM890.5,536.0h1.2l0.9,0.9v1.4l-0.9,0.9h-1.2l-0.9,-0.9v-1.4zM916.1,507.2h1.5l1.1,1.1v1.5l-1.1,1.1h-1.5l-1.1,-1.1v-1.5zM834.9,550.9h2.0l0.8,0.8v1.1l-0.8,0.8h-2.0l-0.8,-0.8v-1.1zM971.2,512.7h1.7l1.0,1.0v1.3l-1.0,1.0h-1.7l-1.0,-1.0v-1.3zM927.3,501.3h1.5l1.0,1.0v1.4l-1.0,1.0h-1.5l-1.0,-1.0v-1.4zM902.6,505.5h1.2l0.9,0.9v1.4l-0.9,0.9h-1.2l-0.9,-0.9v-1.4zM928.5,518.1h1.1l0.9,0.9v1.7l-0.9,0.9h-1.1l-0.9,-0.9v-1.7zM982.0,496.2h1.1l0.8,0.8v2.3l-0.8,0.8h-1.1l-0.8,-0.8v-2.3zM917.6,514.4h2.1l0.9,0.9v1.1l-0.9,0.9h-2.1l-0.9,-0.9v-1.1zM969.8,493.8h1.3l1.0,1.0v1.4l-1.0,1.0h-1.3l-1.0,-1.0v-1.4zM942.9,497.2h1.4l1.0,1.0v1.8l-1.0,1.0h-1.4l-1.0,-1.0v-1.8zM886.7,525.0h1.2l0.9,0.9v1.7l-0.9,0.9h-1.2l-0.9,-0.9v-1.7zM887.2,512.7h1.2l0.9,0.9v1.6l-0.9,0.9h-1.2l-0.9,-0.9v-1.6zM1023.7,490.7h1.2l0.7,0.7v1.0l-0.7,0.7h-1.2l-0.7,-0.7v-1.0zM1024.2,503.0h0.9l0.7,0.7v1.5l-0.7,0.7h-0.9l-0.7,-0.7v-1.5zM928.4,526.9h2.1l0.8,0.8v1.1l-0.8,0.8h-2.1l-0.8,-0.8v-1.1zM905.6,525.7h1.7l1.0,1.0v1.3l-1.0,1.0h-1.7l-1.0,-1.0v-1.3zM865.7,517.1h1.7l1.1,1.1v1.5l-1.1,1.1h-1.7l-1.1,-1.1v-1.5zM870.2,542.6h1.1l0.8,0.8v1.5l-0.8,0.8h-1.1l-0.8,-0.8v-1.5zM828.0,544.6h1.4l1.0,1.0v1.5l-1.0,1.0h-1.4l-1.0,-1.0v-1.5zM1006.1,503.0h1.0l0.8,0.8v1.2l-0.8,0.8h-1.0l-0.8,-0.8v-1.2zM999.5,498.7h1.1l0.8,0.8v1.3l-0.8,0.8h-1.1l-0.8,-0.8v-1.3zM862.0,545.4h1.8l1.0,1.0v1.3l-1.0,1.0h-1.8l-1.0,-1.0v-1.3zM875.6,533.9h1.2l0.9,0.9v1.2l-0.9,0.9h-1.2l-0.9,-0.9v-1.2zM1021.7,497.9h1.6l0.7,0.7v0.9l-0.7,0.7h-1.6l-0.7,-0.7v-0.9zM1027.5,487.1h1.1l0.8,0.8v1.4l-0.8,0.8h-1.1l-0.8,-0.8v-1.4zM939.8,520.2h1.4l1.0,1.0v1.6l-1.0,1.0h-1.4l-1.0,-1.0v-1.6zM1015.0,501.6h1.0l0.7,0.7v1.0l-0.7,0.7h-1.0l-0.7,-0.7v-1.0zM1032.1,496.1h1.2l0.7,0.7v1.0l-0.7,0.7h-1.2l-0.7,-0.7v-1.0zM845.1,525.7h1.2l0.9,0.9v1.2l-0.9,0.9h-1.2l-0.9,-0.9v-1.2zM1007.8,487.6h1.2l0.9,0.9v1.2l-0.9,0.9h-1.2l-0.9,-0.9v-1.2zM873.0,526.8h1.8l0.8,0.8v1.1l-0.8,0.8h-1.8l-0.8,-0.8v-1.1zM914.6,529.3h1.1l0.8,0.8v2.0l-0.8,0.8h-1.1l-0.8,-0.8v-2.0zM1008.0,499.9h1.1l0.8,0.8v1.5l-0.8,0.8h-1.1l-0.8,-0.8v-1.5zM967.1,507.4h1.1l0.8,0.8v1.1l-0.8,0.8h-1.1l-0.8,-0.8v-1.1zM1021.7,485.4h1.0l0.8,0.8v1.4l-0.8,0.8h-1.0l-0.8,-0.8v-1.4zM976.5,489.5h1.5l1.1,1.1v1.5l-1.1,1.1h-1.5l-1.1,-1.1v-1.5zM959.2,520.3h1.2l0.9,0.9v2.1l-0.9,0.9h-1.2l-0.9,-0.9v-2.1zM1031.5,503.5h1.2l0.7,0.7v0.9l-0.7,0.7h-1.2l-0.7,-0.7v-0.9zM1001.6,512.0h1.9l0.9,0.9v1.3l-0.9,0.9h-1.9l-0.9,-0.9v-1.3zM985.9,515.0h1.7l1.0,1.0v1.3l-1.0,1.0h-1.7l-1.0,-1.0v-1.3zM924.5,510.8h1.3l0.8,0.8v1.1l-0.8,0.8h-1.3l-0.8,-0.8v-1.1zM947.5,505.3h1.4l0.9,0.9v1.1l-0.9,0.9h-1.4l-0.9,-0.9v-1.1zM1018.0,497.6h1.3l0.8,0.8v1.1l-0.8,0.8h-1.3l-0.8,-0.8v-1.1zM1031.3,489.6h1.5l0.8,0.8v1.1l-0.8,0.8h-1.5l-0.8,-0.8v-1.1zM821.3,535.6h1.7l1.0,1.0v1.4l-1.0,1.0h-1.7l-1.0,-1.0v-1.4zM1005.3,495.9h1.1l0.8,0.8v1.9l-0.8,0.8h-1.1l-0.8,-0.8v-1.9zM989.3,505.7h1.5l1.1,1.1v1.6l-1.1,1.1h-1.5l-1.1,-1.1v-1.6zM952.6,517.2h1.5l1.0,1.0v1.4l-1.0,1.0h-1.5l-1.0,-1.0v-1.4zM864.1,529.7h1.5l0.9,0.9v1.2l-0.9,0.9h-1.5l-0.9,-0.9v-1.2zM1010.3,505.0h1.2l0.8,0.8v1.1l-0.8,0.8h-1.2l-0.8,-0.8v-1.1zM1015.8,489.3h1.0l0.8,0.8v1.2l-0.8,0.8h-1.0l-0.8,-0.8v-1.2zM883.8,539.1h1.5l1.0,1.0v1.4l-1.0,1.0h-1.5l-1.0,-1.0v-1.4zM1034.5,500.2h1.3l0.8,0.8v1.1l-0.8,0.8h-1.3l-0.8,-0.8v-1.1zM998.7,489.0h1.2l0.9,0.9v1.7l-0.9,0.9h-1.2l-0.9,-0.9v-1.7zM922.3,519.6h1.1l0.9,0.9v1.4l-0.9,0.9h-1.1l-0.9,-0.9v-1.4zM1020.0,492.5h1.4l0.8,0.8v1.0l-0.8,0.8h-1.4l-0.8,-0.8v-1.0zM1010.3,494.7h1.5l0.8,0.8v1.1l-0.8,0.8h-1.5l-0.8,-0.8v-1.1zM1027.8,491.8h1.3l0.8,0.8v1.0l-0.8,0.8h-1.3l-0.8,-0.8v-1.0zM843.3,546.5h2.0l0.8,0.8v1.1l-0.8,0.8h-2.0l-0.8,-0.8v-1.1zM934.0,500.5h1.5l1.1,1.1v1.6l-1.1,1.1h-1.5l-1.1,-1.1v-1.6zM1020.7,501.1h1.0l0.7,0.7v1.0l-0.7,0.7h-1.0l-0.7,-0.7v-1.0zM951.9,500.2h1.3l1.0,1.0v1.3l-1.0,1.0h-1.3l-1.0,-1.0v-1.3zM975.7,503.6h1.9l0.8,0.8v1.1l-0.8,0.8h-1.9l-0.8,-0.8v-1.1zM838.4,537.2h1.2l0.9,0.9v1.8l-0.9,0.9h-1.2l-0.9,-0.9v-1.8zM996.8,505.6h1.4l0.9,0.9v1.2l-0.9,0.9h-1.4l-0.9,-0.9v-1.2zM913.3,520.0h1.9l0.8,0.8v1.1l-0.8,0.8h-1.9l-0.8,-0.8v-1.1zM936.1,512.0h1.3l0.9,0.9v1.3l-0.9,0.9h-1.3l-0.9,-0.9v-1.3zM965.2,514.3h1.3l0.9,0.9v1.4l-0.9,0.9h-1.3l-0.9,-0.9v-1.4zM895.8,507.8h1.1l0.8,0.8v1.9l-0.8,0.8h-1.1l-0.8,-0.8v-1.9zM1020.1,489.1h1.1l0.8,0.8v1.3l-0.8,0.8h-1.1l-0.8,-0.8v-1.3zM992.4,513.5h1.3l1.0,1.0v1.7l-1.0,1.0h-1.3l-1.0,-1.0v-1.7zM978.8,517.2h1.2l0.9,0.9v1.2l-0.9,0.9h-1.2l-0.9,-0.9v-1.2zM892.9,529.2h1.2l0.9,0.9v1.2l-0.9,0.9h-1.2l-0.9,-0.9v-1.2zM962.1,500.7h1.8l1.0,1.0v1.3l-1.0,1.0h-1.8l-1.0,-1.0v-1.3zM899.1,524.2h1.1l0.8,0.8v1.9l-0.8,0.8h-1.1l-0.8,-0.8v-1.9zM921.0,503.5h1.8l0.9,0.9v1.2l-0.9,0.9h-1.8l-0.9,-0.9v-1.2zM1024.0,507.1h1.7l0.7,0.7v1.0l-0.7,0.7h-1.7l-0.7,-0.7v-1.0zM907.7,508.9h1.5l1.1,1.1v1.4l-1.1,1.1h-1.5l-1.1,-1.1v-1.4zM1010.6,497.8h1.0l0.8,0.8v1.5l-0.8,0.8h-1.0l-0.8,-0.8v-1.5zM982.4,507.0h1.9l0.9,0.9v1.2l-0.9,0.9h-1.9l-0.9,-0.9v-1.2zM945.1,514.7h1.3l1.0,1.0v1.5l-1.0,1.0h-1.3l-1.0,-1.0v-1.5zM963.2,492.0h1.7l0.8,0.8v1.1l-0.8,0.8h-1.7l-0.8,-0.8v-1.1zM897.7,537.1h1.2l0.9,0.9v2.0l-0.9,0.9h-1.2l-0.9,-0.9v-2.0zM984.6,487.8h1.2l0.9,0.9v1.8l-0.9,0.9h-1.2l-0.9,-0.9v-1.8zM1029.1,499.1h0.9l0.7,0.7v1.8l-0.7,0.7h-0.9l-0.7,-0.7v-1.8zM1018.5,505.3h0.9l0.7,0.7v1.6l-0.7,0.7h-0.9l-0.7,-0.7v-1.6zM815.8,526.3h1.7l0.8,0.8v1.1l-0.8,0.8h-1.7l-0.8,-0.8v-1.1zM1025.9,497.5h1.1l0.9,0.9v1.3l-0.9,0.9h-1.1l-0.9,-0.9v-1.3zM1010.3,509.2h1.9l0.7,0.7v0.9l-0.7,0.7h-1.9l-0.7,-0.7v-0.9zM970.3,500.2h1.8l1.0,1.0v1.3l-1.0,1.0h-1.8l-1.0,-1.0v-1.3zM1027.9,504.4h1.1l0.7,0.7v1.0l-0.7,0.7h-1.1l-0.7,-0.7v-1.0zM856.9,518.2h1.2l0.9,0.9v1.4l-0.9,0.9h-1.2l-0.9,-0.9v-1.4zM853.7,548.0h1.1l0.8,0.8v1.2l-0.8,0.8h-1.1l-0.8,-0.8v-1.2zM993.1,500.7h1.3l0.9,0.9v1.2l-0.9,0.9h-1.3l-0.9,-0.9v-1.2zM1015.4,494.6h1.0l0.8,0.8v1.4l-0.8,0.8h-1.0l-0.8,-0.8v-1.4zM1013.3,491.7h1.1l0.8,0.8v1.6l-0.8,0.8h-1.1l-0.8,-0.8v-1.6zM1012.1,488.6h0.9l0.7,0.7v1.5l-0.7,0.7h-0.9l-0.7,-0.7v-1.5zM882.6,530.8h1.1l0.8,0.8v1.9l-0.8,0.8h-1.1l-0.8,-0.8v-1.9zM958.1,513.5h1.7l1.0,1.0v1.4l-1.0,1.0h-1.7l-1.0,-1.0v-1.4zM1010.1,484.5h1.1l0.9,0.9v1.4l-0.9,0.9h-1.1l-0.9,-0.9v-1.4zM1004.8,488.9h1.4l1.0,1.0v1.6l-1.0,1.0h-1.4l-1.0,-1.0v-1.6zM1007.3,510.6h1.6l0.7,0.7v0.9l-0.7,0.7h-1.6l-0.7,-0.7v-0.9zM1017.3,485.3h1.3l0.9,0.9v1.2l-0.9,0.9h-1.3l-0.9,-0.9v-1.2zM873.1,513.5h1.4l1.0,1.0v1.6l-1.0,1.0h-1.4l-1.0,-1.0v-1.6zM835.4,523.6h1.8l0.9,0.9v1.2l-0.9,0.9h-1.8l-0.9,-0.9v-1.2zM936.2,525.7h1.1l0.8,0.8v2.1l-0.8,0.8h-1.1l-0.8,-0.8v-2.1zM965.6,520.9h1.2l0.9,0.9v1.4l-0.9,0.9h-1.2l-0.9,-0.9v-1.4z" fill="#000"/>
<polyline points="1036.9,489.5 1041,486.1 1051.9,482 1057.1,478.5 1057.4,471.7 1059.4,468.3 1066.3,467.6 1066.3,456.9 1056.7,456.6 1056,425.2 1058.8,421.7 1069.7,420.8 1071.8,425.2 1073.8,432 1079.3,438.2 1090.2,443.6 1093.7,447.1 1090.2,456.6 1084.8,467.6 1080.7,478.5 1097.1,501.8 1058.8,513.4 1051.9,505.9 1045.1,505.2 1036.9,508" fill="none" stroke="#000" stroke-width="3.33" stroke-linejoin="miter" stroke-linecap="round"/>
<polygon points="1030.7,488.1 1037.5,488.8 1041,486.1 1038.2,489.5 1037.1,496.3 1038.2,503.9 1045.1,505.6 1045.1,507.3 1036.9,508.9 1033.4,507.3 1032.1,500.4" fill="#000"/>
<circle cx="1047.1" cy="497.0" r="8.6" fill="#fff"/>
<circle cx="1047.1" cy="497.0" r="3.4" fill="#fff" stroke="#000" stroke-width="4.1"/>
<polyline points="1097.1,501.8 1058.8,513.4 1051.2,505.9 1045.1,505.6" fill="none" stroke="#000" stroke-width="4.74" stroke-linejoin="miter" stroke-linecap="round"/>
<polyline points="1016.1,439.5 974.6,449.8 993.1,479.2" fill="none" stroke="#7b7b7b" stroke-width="6.25" stroke-linejoin="miter" stroke-linecap="butt"/>
<polygon points="978.7,479.2 999.2,465.5 1005.4,497.7" fill="#7b7b7b"/>
<polyline points="1090,420.8 1132.3,410.4 1151.8,438.9" fill="none" stroke="#7b7b7b" stroke-width="6.25" stroke-linejoin="miter" stroke-linecap="butt"/>
<polygon points="1138.1,440.2 1158.7,426.5 1165.8,458" fill="#7b7b7b"/>
<text x="928.6" y="452.6" font-size="41.5" font-weight="bold" text-anchor="start" >A</text>
<text x="1139.4" y="402.7" font-size="41.5" font-weight="bold" text-anchor="start" >A</text>
<polygon points="1334.2,848.6 1373.2,849 1422.4,851.7 1426.6,849.3 1436.1,849.3 1441.6,857.5 1438.9,861.9 1423.8,864.3 1369.1,859.1 1355.4,855 1336.2,855.4 1335.9,854.2 1355.4,853.1 1334.2,850.1" fill="#000"/>
<polygon points="1353.8,896.9 1386.8,899.7 1422.3,900.7 1422.5,894.1 1387,893.9 1354.2,891.9" fill="#000"/>
<polygon points="1424.1,855 1430.7,852.1 1434.8,852.7 1437.8,857.5 1433.4,855.8 1425.5,856.7" fill="#fff"/>
<polyline points="1424.1,864.3 1424.5,911.1 1438.9,908.1 1442.3,905.4 1441.6,858.9" fill="none" stroke="#000" stroke-width="3.66" stroke-linejoin="round" stroke-linecap="round"/>
<circle cx="1433.4" cy="884.2" r="4" fill="#fff" stroke="#000" stroke-width="3.5"/>
<path d="M1388.8,889.0h1.0l0.7,0.7v1.5l-0.7,0.7h-1.0l-0.7,-0.7v-1.5zM1420.6,868.7h1.7l0.6,0.6v0.8l-0.6,0.6h-1.7l-0.6,-0.6v-0.8zM1362.1,885.9h1.1l0.7,0.7v0.9l-0.7,0.7h-1.1l-0.7,-0.7v-0.9zM1337.0,861.5h1.2l0.8,0.8v1.1l-0.8,0.8h-1.2l-0.8,-0.8v-1.1zM1376.6,860.2h0.9l0.6,0.6v1.6l-0.6,0.6h-0.9l-0.6,-0.6v-1.6zM1381.3,876.4h1.1l0.8,0.8v1.1l-0.8,0.8h-1.1l-0.8,-0.8v-1.1zM1368.2,867.2h1.1l0.8,0.8v1.1l-0.8,0.8h-1.1l-0.8,-0.8v-1.1zM1354.5,875.7h1.1l0.7,0.7v0.9l-0.7,0.7h-1.1l-0.7,-0.7v-0.9zM1339.1,882.8h1.3l0.7,0.7v0.9l-0.7,0.7h-1.3l-0.7,-0.7v-0.9zM1403.7,863.1h1.5l0.7,0.7v0.9l-0.7,0.7h-1.5l-0.7,-0.7v-0.9zM1410.5,878.3h1.2l0.9,0.9v1.2l-0.9,0.9h-1.2l-0.9,-0.9v-1.2zM1366.7,876.9h1.3l0.7,0.7v0.9l-0.7,0.7h-1.3l-0.7,-0.7v-0.9zM1397.0,865.0h0.9l0.7,0.7v1.1l-0.7,0.7h-0.9l-0.7,-0.7v-1.1zM1415.0,864.0h1.0l0.7,0.7v1.0l-0.7,0.7h-1.0l-0.7,-0.7v-1.0zM1372.7,885.9h1.0l0.7,0.7v1.1l-0.7,0.7h-1.0l-0.7,-0.7v-1.1zM1395.5,877.4h0.9l0.6,0.6v0.9l-0.6,0.6h-0.9l-0.6,-0.6v-0.9zM1414.2,867.9h0.9l0.7,0.7v1.5l-0.7,0.7h-0.9l-0.7,-0.7v-1.5zM1400.5,882.7h1.0l0.7,0.7v0.9l-0.7,0.7h-1.0l-0.7,-0.7v-0.9zM1350.4,863.8h0.8l0.6,0.6v1.4l-0.6,0.6h-0.8l-0.6,-0.6v-1.4zM1408.4,891.9h1.6l0.7,0.7v0.9l-0.7,0.7h-1.6l-0.7,-0.7v-0.9zM1404.9,872.9h1.2l0.8,0.8v1.0l-0.8,0.8h-1.2l-0.8,-0.8v-1.0zM1420.4,880.2h1.0l0.7,0.7v0.9l-0.7,0.7h-1.0l-0.7,-0.7v-0.9zM1403.6,887.1h1.0l0.7,0.7v1.3l-0.7,0.7h-1.0l-0.7,-0.7v-1.3zM1411.7,883.5h1.6l0.6,0.6v0.8l-0.6,0.6h-1.6l-0.6,-0.6v-0.8zM1421.5,888.1h1.1l0.8,0.8v1.3l-0.8,0.8h-1.1l-0.8,-0.8v-1.3zM1380.0,887.5h0.8l0.6,0.6v0.9l-0.6,0.6h-0.8l-0.6,-0.6v-0.9zM1385.6,868.1h1.3l0.7,0.7v0.9l-0.7,0.7h-1.3l-0.7,-0.7v-0.9zM1360.2,859.4h0.8l0.6,0.6v1.6l-0.6,0.6h-0.8l-0.6,-0.6v-1.6zM1386.7,881.9h1.0l0.7,0.7v1.2l-0.7,0.7h-1.0l-0.7,-0.7v-1.2zM1393.8,884.5h0.8l0.6,0.6v1.6l-0.6,0.6h-0.8l-0.6,-0.6v-1.6zM1410.1,887.4h0.9l0.7,0.7v1.3l-0.7,0.7h-0.9l-0.7,-0.7v-1.3zM1400.7,870.6h0.8l0.6,0.6v0.9l-0.6,0.6h-0.8l-0.6,-0.6v-0.9zM1415.0,890.8h0.9l0.7,0.7v1.4l-0.7,0.7h-0.9l-0.7,-0.7v-1.4zM1393.1,872.0h0.9l0.7,0.7v1.2l-0.7,0.7h-0.9l-0.7,-0.7v-1.2zM1409.6,867.5h0.9l0.6,0.6v0.9l-0.6,0.6h-0.9l-0.6,-0.6v-0.9zM1404.0,892.9h1.1l0.6,0.6v0.8l-0.6,0.6h-1.1l-0.6,-0.6v-0.8zM1416.5,873.0h0.8l0.6,0.6v1.3l-0.6,0.6h-0.8l-0.6,-0.6v-1.3zM1416.7,887.1h1.6l0.7,0.7v0.9l-0.7,0.7h-1.6l-0.7,-0.7v-0.9zM1421.0,872.8h0.9l0.7,0.7v1.5l-0.7,0.7h-0.9l-0.7,-0.7v-1.5zM1406.5,882.1h0.9l0.7,0.7v1.4l-0.7,0.7h-0.9l-0.7,-0.7v-1.4zM1417.4,881.9h0.8l0.6,0.6v1.1l-0.6,0.6h-0.8l-0.6,-0.6v-1.1zM1418.7,864.6h1.2l0.7,0.7v0.9l-0.7,0.7h-1.2l-0.7,-0.7v-0.9zM1403.4,878.2h1.3l0.6,0.6v0.8l-0.6,0.6h-1.3l-0.6,-0.6v-0.8zM1420.9,883.5h0.8l0.6,0.6v1.7l-0.6,0.6h-0.8l-0.6,-0.6v-1.7zM1384.6,861.4h0.9l0.7,0.7v0.9l-0.7,0.7h-0.9l-0.7,-0.7v-0.9zM1375.0,871.6h1.1l0.7,0.7v0.9l-0.7,0.7h-1.1l-0.7,-0.7v-0.9zM1417.1,893.9h0.9l0.7,0.7v1.6l-0.7,0.7h-0.9l-0.7,-0.7v-1.6zM1394.2,893.0h1.0l0.7,0.7v1.1l-0.7,0.7h-1.0l-0.7,-0.7v-1.1zM1350.8,887.3h0.9l0.6,0.6v1.1l-0.6,0.6h-0.9l-0.6,-0.6v-1.1zM1421.0,892.2h1.1l0.7,0.7v0.9l-0.7,0.7h-1.1l-0.7,-0.7v-0.9zM1411.6,874.1h0.8l0.6,0.6v1.1l-0.6,0.6h-0.8l-0.6,-0.6v-1.1zM1391.8,861.3h0.9l0.6,0.6v0.8l-0.6,0.6h-0.9l-0.6,-0.6v-0.8zM1404.5,867.8h1.4l0.7,0.7v0.9l-0.7,0.7h-1.4l-0.7,-0.7v-0.9zM1414.3,877.2h0.8l0.6,0.6v1.3l-0.6,0.6h-0.8l-0.6,-0.6v-1.3zM1399.3,889.8h0.9l0.7,0.7v1.4l-0.7,0.7h-0.9l-0.7,-0.7v-1.4zM1419.4,877.0h1.2l0.6,0.6v0.8l-0.6,0.6h-1.2l-0.6,-0.6v-0.8zM1412.6,894.0h0.8l0.6,0.6v1.2l-0.6,0.6h-0.8l-0.6,-0.6v-1.2zM1388.2,875.7h0.9l0.7,0.7v1.1l-0.7,0.7h-0.9l-0.7,-0.7v-1.1zM1408.8,863.1h1.1l0.7,0.7v1.0l-0.7,0.7h-1.1l-0.7,-0.7v-1.0z" fill="#000"/>
<text x="1425.4" y="1132.1" font-size="38.1" font-weight="bold" text-anchor="middle" >WING INSTALLATION</text>
<text x="1424.4" y="1190" font-size="37.9" font-weight="normal" text-anchor="middle" >ISOMETRIC VIEW</text>
</svg>
</body></html>
